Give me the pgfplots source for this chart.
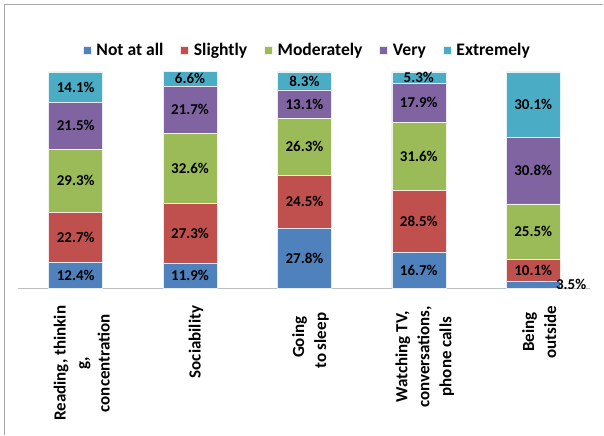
\documentclass[border=0pt]{standalone}
\usepackage{pgfplots}
\pgfplotsset{compat=1.18}
\usepackage{pgfplotstable}
\usepackage{fontspec}
\setmainfont{Carlito}
\definecolor{cA}{HTML}{4F81BD}
\definecolor{cB}{HTML}{C0504D}
\definecolor{cC}{HTML}{9BBB59}
\definecolor{cD}{HTML}{8064A2}
\definecolor{cE}{HTML}{4BACC6}

\pgfplotstableread{
x y dx
0 12.4 0
1 11.9 0
2 27.8 0
3 16.7 0
4 3.5 38
}\notatall
\pgfplotstableread{
x y
0 22.7
1 27.3
2 24.5
3 28.5
4 10.1
}\slightly
\pgfplotstableread{
x y
0 29.3
1 32.6
2 26.3
3 31.6
4 25.5
}\moderately
\pgfplotstableread{
x y
0 21.5
1 21.7
2 13.1
3 17.9
4 30.8
}\very
\pgfplotstableread{
x y
0 14.1
1 6.6
2 8.3
3 5.3
4 30.1
}\extremely

\begin{document}
\begin{tikzpicture}
\path (0pt,0pt) rectangle (604pt,435pt);
\draw[black!35, line width=1.3pt] (4.6pt,0pt) -- (4.6pt,430.4pt) -- (604pt,430.4pt);
\begin{axis}[
  at={(18.5pt,146pt)}, anchor=south west,
  scale only axis, width=572.5pt, height=217pt,
  ybar stacked, bar width=54pt,
  xmin=-0.5, xmax=4.5, ymin=0, ymax=100,
  axis y line=none, axis x line*=bottom,
  x axis line style={draw=black!25, line width=0.9pt},
  xtick=data, xtick style={draw=none}, ytick=\empty,
  xticklabels={{Reading, thinkin\\g,\\concentration},{Sociability},{Going\\to sleep\hspace*{7pt}},{Watching TV,\\conversations,\\phone calls},{Being\\outside}},
  xticklabel style={xshift=6pt, rotate=90, anchor=east, align=center, inner sep=0pt,
    font=\fontsize{17}{22}\selectfont\bfseries},
  xticklabel shift=17pt,
  clip=false,
  point meta=explicit,
  visualization depends on={\thisrow{y} \as \rawy},
  nodes near coords={\pgfmathprintnumber[fixed,fixed zerofill,precision=1,assume math mode=true]{\rawy}\%},
  every node near coord/.append style={anchor=center,
    font=\fontsize{15}{15}\selectfont\bfseries, text=black},
  legend columns=5,
  legend style={at={(0.5,1)}, anchor=center, xshift=2pt, yshift=21.5pt, draw=none, fill=none,
    font=\fontsize{17.6}{20}\selectfont\bfseries,
    /tikz/every odd column/.append style={column sep=5pt},
    /tikz/every even column/.append style={column sep=17pt},
    nodes={inner sep=0pt}},
  legend image code/.code={\fill[#1] (0pt,-4pt) rectangle (8pt,4pt);},
]
\addplot[fill=cA, draw=white!85!cA, line width=0.5pt,
  visualization depends on={\thisrow{dx} \as \dx},
  every node near coord/.append style={xshift=\dx pt}] table[x=x,y=y,meta=y] {\notatall};
\addplot[fill=cB, draw=white!85!cB, line width=0.5pt] table[x=x,y=y,meta=y] {\slightly};
\addplot[fill=cC, draw=white!85!cC, line width=0.5pt] table[x=x,y=y,meta=y] {\moderately};
\addplot[fill=cD, draw=white!85!cD, line width=0.5pt] table[x=x,y=y,meta=y] {\very};
\addplot[fill=cE, draw=white!85!cE, line width=0.5pt] table[x=x,y=y,meta=y] {\extremely};
\legend{Not at all, Slightly, Moderately, Very, Extremely}
\end{axis}
\end{tikzpicture}
\end{document}
